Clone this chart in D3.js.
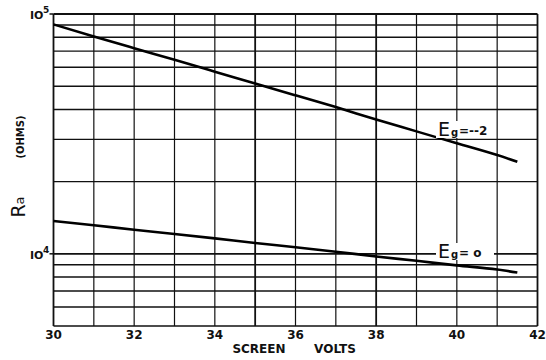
<!DOCTYPE html>
<html>
<head>
<meta charset="utf-8">
<script src="https://cdn.jsdelivr.net/npm/d3@7"></script>
<style>
html,body{margin:0;padding:0;background:#fff;}
svg text{font-family:"DejaVu Sans",sans-serif;fill:#111;}
</style>
</head>
<body>
<svg id="c" width="546" height="360"></svg>
<script>
// ---- data ----
const volts = [30, 31, 32, 33, 34, 35, 36, 37, 38, 39, 40, 41, 41.5];
const raEgMinus2 = [90500, 80600, 72000, 64400, 57500, 51300, 45800, 40900, 36300, 32400, 28900, 25800, 24200];
const voltsEg0 = [30, 31, 32, 33, 34, 35, 36, 37, 38, 39, 40, 41, 41.5];
const raEg0 = [13700, 13150, 12600, 12100, 11600, 11100, 10650, 10200, 9750, 9350, 8950, 8600, 8350];
const xTicks = [30, 32, 34, 36, 38, 40, 42];
const xGrid = [30, 31, 32, 33, 34, 35, 36, 37, 38, 39, 40, 41, 42];
const yGrid = [5000, 6000, 7000, 8000, 9000, 10000, 20000, 30000, 40000, 50000, 60000, 70000, 80000, 90000, 100000];
const yLabels = [{v: 100000, base: "IO", exp: "5"}, {v: 10000, base: "IO", exp: "4"}];

// ---- chart ----
const svg = d3.select("#c");
const x = d3.scaleLinear().domain([30, 42]).range([53.5, 537.5]);
const y = d3.scaleLog().domain([5000, 100000]).range([326, 14]);

const g = svg.append("g");

// horizontal grid
g.selectAll("line.h").data(yGrid).enter().append("line")
  .attr("x1", x(30)).attr("x2", x(42))
  .attr("y1", d => y(d)).attr("y2", d => y(d))
  .attr("stroke", "#111")
  .attr("stroke-width", d => (d === 10000 || d === 100000) ? 1.8 : 1.4);

// vertical grid
g.selectAll("line.v").data(xGrid).enter().append("line")
  .attr("x1", d => x(d)).attr("x2", d => x(d))
  .attr("y1", y(100000)).attr("y2", y(5000))
  .attr("stroke", "#111")
  .attr("stroke-width", d => (d === 35 || d === 38 || d === 30 || d === 42) ? 1.8 : 1.2);

// small ticks left of 10^n
g.selectAll("line.t").data(yLabels).enter().append("line")
  .attr("x1", x(30) - 4).attr("x2", x(30))
  .attr("y1", d => y(d.v)).attr("y2", d => y(d.v))
  .attr("stroke", "#111").attr("stroke-width", 1.5);

// curves
const line = d3.line().x(d => x(d[0])).y(d => y(d[1])).curve(d3.curveMonotoneX);
g.append("path").datum(volts.map((v, i) => [v, raEgMinus2[i]]))
  .attr("d", line).attr("fill", "none").attr("stroke", "#000").attr("stroke-width", 2.6);
g.append("path").datum(voltsEg0.map((v, i) => [v, raEg0[i]]))
  .attr("d", line).attr("fill", "none").attr("stroke", "#000").attr("stroke-width", 2.6);

// curve labels
function eLabel(px, py, sub) {
  const t = g.append("g").attr("transform", `translate(${px},${py})`);
  t.append("rect").attr("x", -2).attr("y", -15).attr("width", 58).attr("height", 17).attr("fill", "#fff");
  t.append("text").attr("x", 0).attr("y", 0).attr("font-size", 19).text("E");
  t.append("text").attr("x", 13).attr("y", 0).attr("font-size", 10).attr("font-weight", "bold").text("g");
  t.append("text").attr("x", 21).attr("y", -1).attr("font-size", 12).attr("font-weight", "bold").text(sub);
}
eLabel(438, 136, "=--2");
eLabel(438, 258, "= o");

// y labels (10^n)
const yl = g.selectAll("g.yl").data(yLabels).enter().append("g")
  .attr("transform", d => `translate(30,${y(d.v) + 5})`);
yl.append("text").attr("font-size", 11).attr("font-weight", "bold").text(d => d.base);
yl.append("text").attr("x", 13).attr("y", -6).attr("font-size", 9).attr("font-weight", "bold").text(d => d.exp);

// x tick labels
g.selectAll("text.xt").data(xTicks).enter().append("text")
  .attr("x", d => x(d)).attr("y", 339)
  .attr("text-anchor", "middle").attr("font-size", 12).attr("font-weight", "bold")
  .text(d => d);

// axis titles
g.append("text").attr("x", 259).attr("y", 353).attr("text-anchor", "middle")
  .attr("font-size", 12).attr("font-weight", "bold").text("SCREEN");
g.append("text").attr("x", 335).attr("y", 353).attr("text-anchor", "middle")
  .attr("font-size", 12).attr("font-weight", "bold").text("VOLTS");

const ra = g.append("text").attr("transform", "translate(25,207) rotate(-90)")
  .attr("text-anchor", "middle");
ra.append("tspan").attr("font-size", 19).text("R");
ra.append("tspan").attr("font-size", 13).attr("dy", -1).text("a");

g.append("text").attr("transform", "translate(24,137) rotate(-90)")
  .attr("text-anchor", "middle").attr("font-size", 10).attr("font-weight", "bold").text("(OHMS)");
</script>
</body>
</html>
